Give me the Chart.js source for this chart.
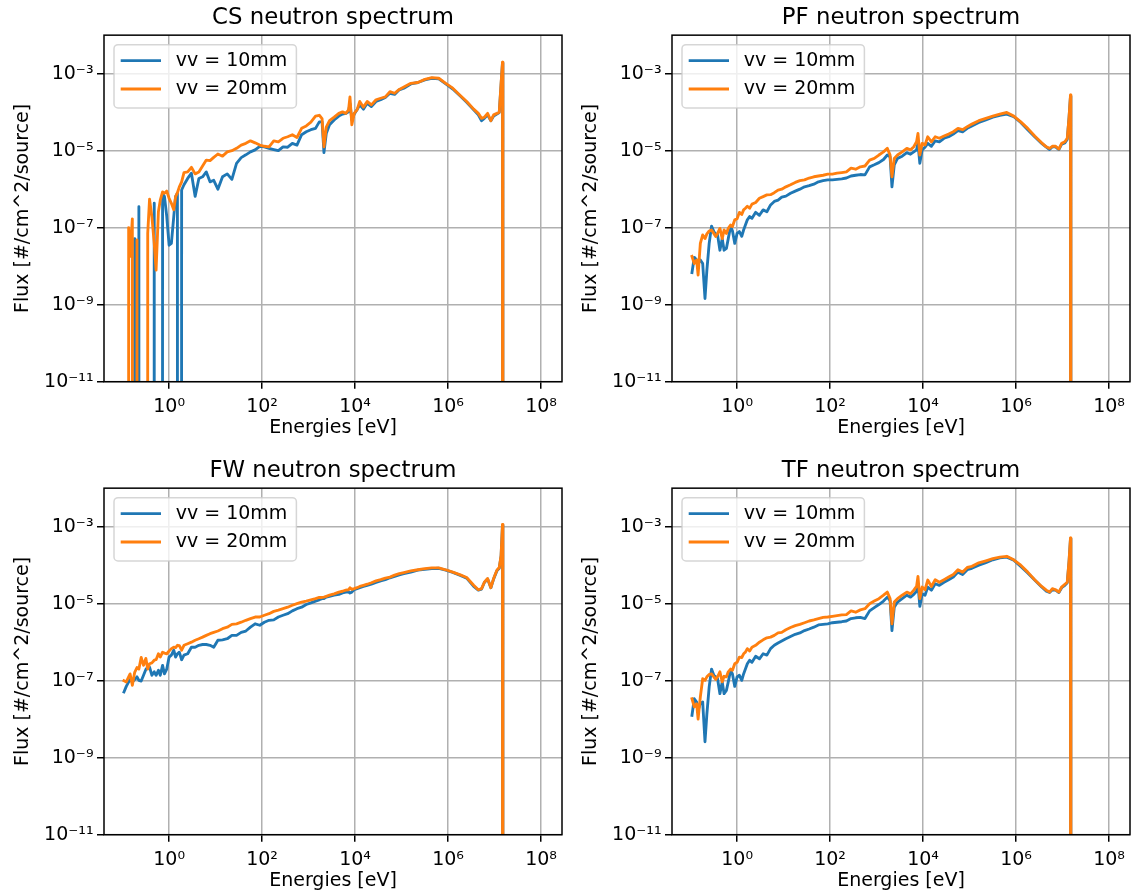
<!DOCTYPE html>
<html>
<head>
<meta charset="utf-8">
<title>Neutron spectra</title>
<script src="https://cdn.jsdelivr.net/npm/chart.js@4.4.0/dist/chart.umd.min.js"></script>
<style>
  html, body { margin: 0; padding: 0; background: #fff; overflow: hidden; }
  .panel { position: absolute; width: 570px; height: 446px; }
</style>
</head>
<body>
<div class="panel" style="left:0;top:0"><canvas id="cs"></canvas></div>
<div class="panel" style="left:568px;top:0"><canvas id="pf"></canvas></div>
<div class="panel" style="left:0;top:453px"><canvas id="fw"></canvas></div>
<div class="panel" style="left:568px;top:453px"><canvas id="tf"></canvas></div>
<script>
// energy bins [eV], shared by all four spectra
const energies = [
  0.107, 0.120, 0.135, 0.145, 0.162, 0.182, 0.204, 0.224, 0.251, 0.282,
  0.316, 0.347, 0.380, 0.427, 0.479, 0.525, 0.589, 0.646, 0.724, 0.794,
  0.891, 1.00, 1.12, 1.26, 1.38, 1.51, 1.66, 1.86, 2.09, 2.51,
  3.02, 3.63, 4.37, 5.25, 6.31, 7.59, 9.12, 11.2, 14.1, 17.8,
  22.4, 28.2, 35.5, 44.7, 56.2, 70.8, 89.1, 112, 141, 178,
  224, 282, 355, 447, 562, 708, 891, 1120, 1410, 1700,
  1950, 2140, 2400, 2820, 3550, 4470, 5370, 6310, 7240, 7760,
  8510, 9550, 1.10e4, 1.26e4, 1.51e4, 1.82e4, 2.24e4, 2.82e4, 3.55e4, 4.47e4,
  5.62e4, 7.08e4, 8.91e4, 1.12e5, 1.58e5, 2.24e5, 3.16e5, 4.47e5, 6.31e5, 8.91e5,
  1.26e6, 1.78e6, 2.51e6, 3.55e6, 4.47e6, 5.25e6, 6.03e6, 7.08e6, 8.32e6, 9.55e6,
  1.12e7, 1.26e7, 1.38e7, 1.48e7, 1.51e7
];

// flux [#/cm^2/source], vv = 10mm and vv = 20mm
const csFlux10 = [
  0, 0, 0, 0, 0, 5.2e-8, 0, 3.5e-7, 0, 0,
  0, 0, 0, 0, 4.3e-7, 0, 0, 0, 7.8e-7, 6.5e-7,
  1.95e-7, 3.5e-8, 3.9e-8, 1.95e-7, 6.5e-7, 7.8e-7, 0, 9.5e-7, 1.3e-6, 1.9e-6,
  2.6e-6, 6.5e-7, 1.9e-6, 2.1e-6, 2.8e-6, 1.55e-6, 1.7e-6, 1.0e-6, 2.1e-6, 2.5e-6,
  1.8e-6, 4.7e-6, 6.6e-6, 7.8e-6, 9.3e-6, 1.05e-5, 1.3e-5, 1.26e-5, 1.15e-5, 1.07e-5,
  1.0e-5, 1.26e-5, 1.23e-5, 1.55e-5, 1.4e-5, 2.6e-5, 3.1e-5, 3.5e-5, 3.8e-5, 5.6e-5,
  5.6e-5, 8.9e-6, 2.8e-5, 4.7e-5, 6.3e-5, 7.9e-5, 8.9e-5, 9.3e-5, 1.02e-4, 1.7e-4,
  6.3e-5, 8.9e-5, 1.15e-4, 1.55e-4, 1.2e-4, 1.7e-4, 1.4e-4, 1.9e-4, 2.1e-4, 2.4e-4,
  3.1e-4, 2.9e-4, 3.8e-4, 4.2e-4, 5.4e-4, 5.9e-4, 6.9e-4, 7.6e-4, 7.3e-4, 5.4e-4,
  4.0e-4, 2.7e-4, 1.8e-4, 1.15e-4, 8.5e-5, 6.0e-5, 6.9e-5, 8.5e-5, 6.0e-5, 7.9e-5,
  8.9e-5, 9.8e-5, 5.1e-4, 1.9e-3, 0
];
const csFlux20 = [
  0, 0, 1.0e-7, 1.8e-8, 1.7e-7, 0, 4.8e-8, 0, 0, 0,
  0, 7.1e-8, 5.5e-7, 1.9e-7, 3.9e-8, 7.9e-9, 2.6e-7, 5.2e-7, 8.5e-7, 7.8e-7,
  8.9e-7, 5.8e-7, 4.3e-7, 2.9e-7, 6.4e-7, 8.1e-7, 1.15e-6, 1.55e-6, 2.7e-6, 2.8e-6,
  3.7e-6, 2.5e-6, 2.8e-6, 4.0e-6, 5.7e-6, 5.5e-6, 6.7e-6, 8.2e-6, 7.2e-6, 9.3e-6,
  1.0e-5, 1.15e-5, 1.4e-5, 1.55e-5, 1.8e-5, 1.6e-5, 1.4e-5, 1.3e-5, 1.26e-5, 1.8e-5,
  1.7e-5, 2.1e-5, 2.3e-5, 2.6e-5, 2.2e-5, 3.8e-5, 4.4e-5, 5.5e-5, 7.9e-5, 8.3e-5,
  6.8e-5, 1.26e-5, 4.1e-5, 6.0e-5, 7.4e-5, 9.3e-5, 1.02e-4, 9.3e-5, 1.15e-4, 2.5e-4,
  4.7e-5, 9.3e-5, 1.15e-4, 1.9e-4, 1.35e-4, 1.9e-4, 1.55e-4, 2.1e-4, 2.3e-4, 2.5e-4,
  3.4e-4, 3.1e-4, 3.9e-4, 4.5e-4, 5.6e-4, 5.9e-4, 7.1e-4, 7.9e-4, 7.6e-4, 5.6e-4,
  4.2e-4, 2.8e-4, 1.9e-4, 1.2e-4, 9.3e-5, 6.9e-5, 7.4e-5, 9.3e-5, 6.0e-5, 8.5e-5,
  9.3e-5, 1.0e-4, 5.6e-4, 2.0e-3, 0
];
const pfFlux10 = [
  6.8e-9, 1.7e-8, 1.45e-8, 1.17e-8, 1.45e-8, 1.17e-8, 1.45e-9, 7.9e-9, 3.9e-8, 1.1e-7,
  7.9e-8, 6.9e-8, 6.5e-8, 2.6e-8, 5.2e-8, 2.6e-8, 2.9e-8, 5.2e-8, 1.07e-7, 8.3e-8,
  3.9e-8, 7.1e-8, 7.9e-8, 6.0e-8, 8.7e-8, 1.17e-7, 1.6e-7, 1.95e-7, 1.75e-7, 2.5e-7,
  2.1e-7, 2.9e-7, 2.6e-7, 3.9e-7, 4.8e-7, 5.2e-7, 6.2e-7, 6.6e-7, 7.8e-7, 8.9e-7,
  1.0e-6, 1.15e-6, 1.23e-6, 1.35e-6, 1.55e-6, 1.66e-6, 1.74e-6, 1.74e-6, 1.8e-6, 1.86e-6,
  1.95e-6, 2.2e-6, 2.3e-6, 2.4e-6, 2.35e-6, 3.8e-6, 4.3e-6, 4.9e-6, 5.9e-6, 7.7e-6,
  6.9e-6, 1.15e-6, 4.3e-6, 6.3e-6, 7.2e-6, 8.9e-6, 8.1e-6, 9.3e-6, 1.05e-5, 1.55e-5,
  4.7e-6, 1.05e-5, 1.23e-5, 1.55e-5, 1.3e-5, 1.8e-5, 1.7e-5, 2.1e-5, 2.3e-5, 2.7e-5,
  3.3e-5, 3.1e-5, 3.8e-5, 4.4e-5, 5.4e-5, 6.3e-5, 7.4e-5, 8.3e-5, 8.9e-5, 7.6e-5,
  5.4e-5, 3.5e-5, 2.3e-5, 1.55e-5, 1.23e-5, 1.07e-5, 1.26e-5, 1.26e-5, 1.07e-5, 1.48e-5,
  1.6e-5, 1.95e-5, 7.4e-5, 2.6e-4, 0
];
const pfFlux20 = [
  1.8e-8, 1.17e-8, 1.45e-8, 5.9e-9, 3.9e-8, 6.5e-8, 5.2e-8, 6.9e-8, 8.2e-8, 8.7e-8,
  7.1e-8, 5.9e-8, 7.1e-8, 9.6e-8, 5.2e-8, 8.7e-8, 7.1e-8, 9.6e-8, 1.17e-7, 1.07e-7,
  1.6e-7, 1.7e-7, 2.5e-7, 2.2e-7, 2.9e-7, 3.2e-7, 3.6e-7, 3.2e-7, 4.1e-7, 4.5e-7,
  5.8e-7, 6.4e-7, 7.1e-7, 7.2e-7, 8.1e-7, 9.5e-7, 1.0e-6, 1.15e-6, 1.3e-6, 1.5e-6,
  1.66e-6, 1.74e-6, 1.95e-6, 2.1e-6, 2.2e-6, 2.3e-6, 2.45e-6, 2.45e-6, 2.6e-6, 2.7e-6,
  2.8e-6, 3.5e-6, 3.3e-6, 3.8e-6, 4.0e-6, 5.7e-6, 6.3e-6, 7.7e-6, 9.3e-6, 1.15e-5,
  7.7e-6, 2.1e-6, 6.3e-6, 7.7e-6, 9.3e-6, 1.15e-5, 1.05e-5, 1.26e-5, 1.7e-5, 2.8e-5,
  7.7e-6, 1.55e-5, 1.4e-5, 2.3e-5, 1.7e-5, 2.3e-5, 2.1e-5, 2.4e-5, 2.7e-5, 3.1e-5,
  3.8e-5, 3.5e-5, 4.2e-5, 4.9e-5, 6.0e-5, 6.9e-5, 7.9e-5, 8.9e-5, 9.8e-5, 7.9e-5,
  5.6e-5, 3.8e-5, 2.4e-5, 1.6e-5, 1.26e-5, 1.15e-5, 1.3e-5, 1.3e-5, 1.1e-5, 1.55e-5,
  1.7e-5, 2.1e-5, 7.6e-5, 2.8e-4, 0
];
const fwFlux10 = [
  5.1e-8, 7.1e-8, 9.3e-8, 1.07e-7, 9.3e-8, 1.07e-7, 1.26e-7, 1.02e-7, 9.8e-8, 1.38e-7,
  1.95e-7, 2.24e-7, 2.24e-7, 1.38e-7, 1.7e-7, 1.38e-7, 1.86e-7, 1.38e-7, 2.5e-7, 1.5e-7,
  2.0e-7, 4.1e-7, 4.6e-7, 6.2e-7, 4.1e-7, 5.0e-7, 5.5e-7, 3.5e-7, 4.6e-7, 5.0e-7,
  7.4e-7, 7.4e-7, 8.3e-7, 8.7e-7, 8.7e-7, 8.3e-7, 7.4e-7, 1.12e-6, 1.15e-6, 1.23e-6,
  1.5e-6, 1.5e-6, 1.8e-6, 1.95e-6, 2.45e-6, 3.0e-6, 2.75e-6, 3.3e-6, 3.7e-6, 3.8e-6,
  4.5e-6, 5.0e-6, 5.5e-6, 6.5e-6, 7.4e-6, 8.1e-6, 9.5e-6, 1.05e-5, 1.17e-5, 1.26e-5,
  1.35e-5, 1.35e-5, 1.48e-5, 1.55e-5, 1.66e-5, 1.74e-5, 1.9e-5, 2.0e-5, 2.0e-5, 1.9e-5,
  2.0e-5, 2.3e-5, 2.45e-5, 2.6e-5, 2.8e-5, 3.0e-5, 3.2e-5, 3.55e-5, 3.9e-5, 4.2e-5,
  4.7e-5, 5.1e-5, 5.6e-5, 6.0e-5, 6.6e-5, 7.4e-5, 7.8e-5, 8.1e-5, 8.3e-5, 7.4e-5,
  6.5e-5, 5.5e-5, 4.6e-5, 2.8e-5, 2.24e-5, 2.4e-5, 3.55e-5, 4.4e-5, 2.6e-5, 4.4e-5,
  7.1e-5, 8.3e-5, 1.7e-4, 1.1e-3, 0
];
const fwFlux20 = [
  1.0e-7, 9.3e-8, 1.26e-7, 1.5e-7, 7.6e-8, 1.65e-7, 2.2e-7, 2.0e-7, 4.0e-7, 2.5e-7,
  3.8e-7, 2.0e-7, 2.75e-7, 2.9e-7, 3.4e-7, 3.5e-7, 5.0e-7, 4.1e-7, 5.5e-7, 5.2e-7,
  5.0e-7, 5.9e-7, 6.8e-7, 7.4e-7, 7.2e-7, 8.3e-7, 8.1e-7, 6.2e-7, 8.3e-7, 9.1e-7,
  1.0e-6, 1.12e-6, 1.23e-6, 1.35e-6, 1.5e-6, 1.66e-6, 1.8e-6, 1.95e-6, 2.24e-6, 2.45e-6,
  2.9e-6, 3.0e-6, 3.3e-6, 3.7e-6, 4.1e-6, 4.5e-6, 4.5e-6, 5.0e-6, 5.5e-6, 6.3e-6,
  6.8e-6, 7.4e-6, 8.1e-6, 9.1e-6, 1.0e-5, 1.1e-5, 1.17e-5, 1.26e-5, 1.35e-5, 1.45e-5,
  1.45e-5, 1.48e-5, 1.55e-5, 1.66e-5, 1.8e-5, 2.0e-5, 2.1e-5, 2.24e-5, 2.3e-5, 2.6e-5,
  2.35e-5, 2.45e-5, 2.6e-5, 2.8e-5, 3.0e-5, 3.2e-5, 3.5e-5, 3.9e-5, 4.2e-5, 4.6e-5,
  4.9e-5, 5.5e-5, 6.0e-5, 6.4e-5, 7.1e-5, 7.6e-5, 8.1e-5, 8.5e-5, 8.5e-5, 7.6e-5,
  6.6e-5, 5.7e-5, 4.8e-5, 3.0e-5, 2.3e-5, 2.45e-5, 3.6e-5, 4.5e-5, 2.6e-5, 4.5e-5,
  7.4e-5, 8.7e-5, 1.8e-4, 1.15e-3, 0
];
const tfFlux10 = [
  1.26e-8, 3.4e-8, 2.8e-8, 1.7e-8, 2.6e-8, 2.8e-8, 2.6e-9, 1.38e-8, 6.9e-8, 2.0e-7,
  1.38e-7, 1.26e-7, 1.12e-7, 4.6e-8, 9.3e-8, 4.6e-8, 5.6e-8, 9.3e-8, 1.86e-7, 1.5e-7,
  7.1e-8, 1.26e-7, 1.38e-7, 1.02e-7, 1.5e-7, 2.0e-7, 2.75e-7, 3.4e-7, 3.0e-7, 4.3e-7,
  3.7e-7, 5.0e-7, 4.6e-7, 6.8e-7, 8.3e-7, 9.5e-7, 1.07e-6, 1.23e-6, 1.4e-6, 1.6e-6,
  1.74e-6, 2.0e-6, 2.2e-6, 2.45e-6, 2.8e-6, 2.9e-6, 3.0e-6, 3.2e-6, 3.3e-6, 3.4e-6,
  3.55e-6, 4.1e-6, 4.3e-6, 4.4e-6, 4.1e-6, 6.5e-6, 7.9e-6, 9.5e-6, 1.17e-5, 1.48e-5,
  1.2e-5, 2.0e-6, 8.1e-6, 1.1e-5, 1.35e-5, 1.66e-5, 1.48e-5, 1.74e-5, 2.1e-5, 3.3e-5,
  8.5e-6, 1.8e-5, 1.66e-5, 2.7e-5, 2.24e-5, 3.3e-5, 3.0e-5, 3.6e-5, 4.2e-5, 4.9e-5,
  6.6e-5, 5.7e-5, 7.6e-5, 8.3e-5, 1.0e-4, 1.17e-4, 1.38e-4, 1.55e-4, 1.62e-4, 1.35e-4,
  9.3e-5, 6.3e-5, 4.1e-5, 2.7e-5, 2.1e-5, 1.95e-5, 2.3e-5, 2.24e-5, 1.95e-5, 2.6e-5,
  3.0e-5, 3.5e-5, 1.26e-4, 4.9e-4, 0
];
const tfFlux20 = [
  3.4e-8, 2.1e-8, 2.5e-8, 1.0e-8, 3.8e-8, 1.12e-7, 1.02e-7, 1.26e-7, 1.45e-7, 1.5e-7,
  1.26e-7, 1.07e-7, 1.26e-7, 1.7e-7, 9.3e-8, 1.3e-7, 1.26e-7, 1.7e-7, 2.0e-7, 1.86e-7,
  2.75e-7, 3.0e-7, 4.1e-7, 4.0e-7, 5.0e-7, 5.5e-7, 6.8e-7, 5.9e-7, 7.4e-7, 8.3e-7,
  1.0e-6, 1.15e-6, 1.3e-6, 1.35e-6, 1.5e-6, 1.74e-6, 1.8e-6, 2.1e-6, 2.4e-6, 2.7e-6,
  2.9e-6, 3.2e-6, 3.55e-6, 3.8e-6, 4.1e-6, 4.4e-6, 4.5e-6, 4.7e-6, 4.9e-6, 5.1e-6,
  5.2e-6, 6.5e-6, 6.0e-6, 6.9e-6, 7.4e-6, 1.0e-5, 1.17e-5, 1.35e-5, 1.66e-5, 2.0e-5,
  1.35e-5, 3.0e-6, 1.1e-5, 1.35e-5, 1.66e-5, 2.0e-5, 1.8e-5, 2.24e-5, 2.8e-5, 5.1e-5,
  1.35e-5, 2.7e-5, 2.3e-5, 4.1e-5, 2.8e-5, 4.2e-5, 3.6e-5, 4.2e-5, 4.9e-5, 5.7e-5,
  7.6e-5, 6.6e-5, 8.7e-5, 9.3e-5, 1.15e-4, 1.3e-4, 1.48e-4, 1.62e-4, 1.7e-4, 1.38e-4,
  1.0e-4, 6.6e-5, 4.2e-5, 2.8e-5, 2.24e-5, 2.0e-5, 2.45e-5, 2.3e-5, 2.0e-5, 2.7e-5,
  3.2e-5, 3.6e-5, 1.35e-4, 5.1e-4, 0
];

const seriesLabels = ['vv = 10mm', 'vv = 20mm'];
const xTickValues = [1e0, 1e2, 1e4, 1e6, 1e8];
const xTickLabels = ['10⁰', '10²', '10⁴', '10⁶', '10⁸'];
const yTickValues = [1e-11, 1e-9, 1e-7, 1e-5, 1e-3];
const yTickLabels = ['10⁻¹¹', '10⁻⁹', '10⁻⁷', '10⁻⁵', '10⁻³'];

const FONT = 'DejaVu Sans';
Chart.defaults.font.family = FONT;
Chart.defaults.color = '#000';

// spines on all four sides + matplotlib style legend box in the upper left
const frameAndLegend = {
  id: 'frameAndLegend',
  afterDatasetsDraw(chart) {
    const { ctx, chartArea: a } = chart;
    ctx.save();
    ctx.strokeStyle = '#000';
    ctx.lineWidth = 1.5;
    ctx.strokeRect(a.left, a.top, a.right - a.left, a.bottom - a.top);

    ctx.font = '19px "' + FONT + '"';
    const sets = chart.data.datasets;
    const textW = Math.max(...sets.map(d => ctx.measureText(d.label).width));
    const x = a.left + 10, y = a.top + 9.5;
    const w = 61.7 + textW + 9, h = 63.3;
    ctx.beginPath();
    ctx.roundRect(x, y, w, h, 4);
    ctx.fillStyle = 'rgba(255,255,255,0.8)';
    ctx.fill();
    ctx.strokeStyle = 'rgba(204,204,204,0.8)';
    ctx.lineWidth = 1.5;
    ctx.stroke();
    sets.forEach((d, i) => {
      const ry = y + 16 + i * 28.3;
      ctx.beginPath();
      ctx.moveTo(x + 6.7, ry);
      ctx.lineTo(x + 47, ry);
      ctx.strokeStyle = d.borderColor;
      ctx.lineWidth = 2.85;
      ctx.stroke();
      ctx.fillStyle = '#000';
      ctx.textAlign = 'left';
      ctx.textBaseline = 'middle';
      ctx.fillText(d.label, x + 61.7, ry);
    });
    ctx.restore();
  }
};

// zero flux goes far below the axis, like matplotlib's log clipping
const toPoints = flux => energies.map((e, i) => ({ x: e, y: flux[i] > 0 ? flux[i] : 1e-300 }));

function makePanel(id, title, flux10, flux20) {
  new Chart(document.getElementById(id), {
    type: 'line',
    data: {
      datasets: [
        { label: seriesLabels[0], data: toPoints(flux10), borderColor: '#1f77b4', order: 1 },
        { label: seriesLabels[1], data: toPoints(flux20), borderColor: '#ff7f0e', order: 0 }
      ]
    },
    options: {
      responsive: true,
      maintainAspectRatio: false,
      devicePixelRatio: 1,
      animation: false,
      events: [],
      layout: { padding: { left: 0, right: 8, top: 0, bottom: 0 } },
      elements: {
        point: { radius: 0 },
        line: { borderWidth: 2.85, borderJoinStyle: 'round', borderCapStyle: 'square', tension: 0, fill: false }
      },
      plugins: {
        legend: { display: false },
        tooltip: { enabled: false },
        title: {
          display: true,
          text: title,
          fullSize: false,
          color: '#000',
          font: { family: FONT, size: 22.8, weight: 'normal' },
          padding: { top: 4.4, bottom: 3.4 }
        }
      },
      scales: {
        x: {
          type: 'logarithmic',
          min: Math.pow(10, -1.4),
          max: Math.pow(10, 8.45),
          afterFit: s => { s.height = 64.3; },
          afterBuildTicks: s => { s.ticks = xTickValues.map(v => ({ value: v })); },
          ticks: {
            autoSkip: false, maxRotation: 0, minRotation: 0, padding: 7,
            font: { size: 19 }, color: '#000',
            callback: (v, i) => xTickLabels[i]
          },
          grid: { color: '#b0b0b0', lineWidth: 1.5, tickColor: '#000', tickLength: 7, tickWidth: 1.5 },
          border: { display: false },
          title: { display: true, text: 'Energies [eV]', font: { size: 19 }, color: '#000', padding: { top: 0, bottom: 6.7 } }
        },
        y: {
          type: 'logarithmic',
          min: 1e-11,
          max: 1e-2,
          afterFit: s => { s.width = 104; },
          afterBuildTicks: s => { s.ticks = yTickValues.map(v => ({ value: v })); },
          ticks: {
            autoSkip: false, padding: 3.5,
            font: { size: 19 }, color: '#000',
            callback: (v, i) => yTickLabels[i]
          },
          grid: { color: '#b0b0b0', lineWidth: 1.5, tickColor: '#000', tickLength: 7, tickWidth: 1.5 },
          border: { display: false },
          title: { display: true, text: 'Flux [#/cm^2/source]', font: { size: 19 }, color: '#000', padding: { top: 11.5, bottom: 0 } }
        }
      }
    },
    plugins: [frameAndLegend]
  });
}

makePanel('cs', 'CS neutron spectrum', csFlux10, csFlux20);
makePanel('pf', 'PF neutron spectrum', pfFlux10, pfFlux20);
makePanel('fw', 'FW neutron spectrum', fwFlux10, fwFlux20);
makePanel('tf', 'TF neutron spectrum', tfFlux10, tfFlux20);
</script>
</body>
</html>
